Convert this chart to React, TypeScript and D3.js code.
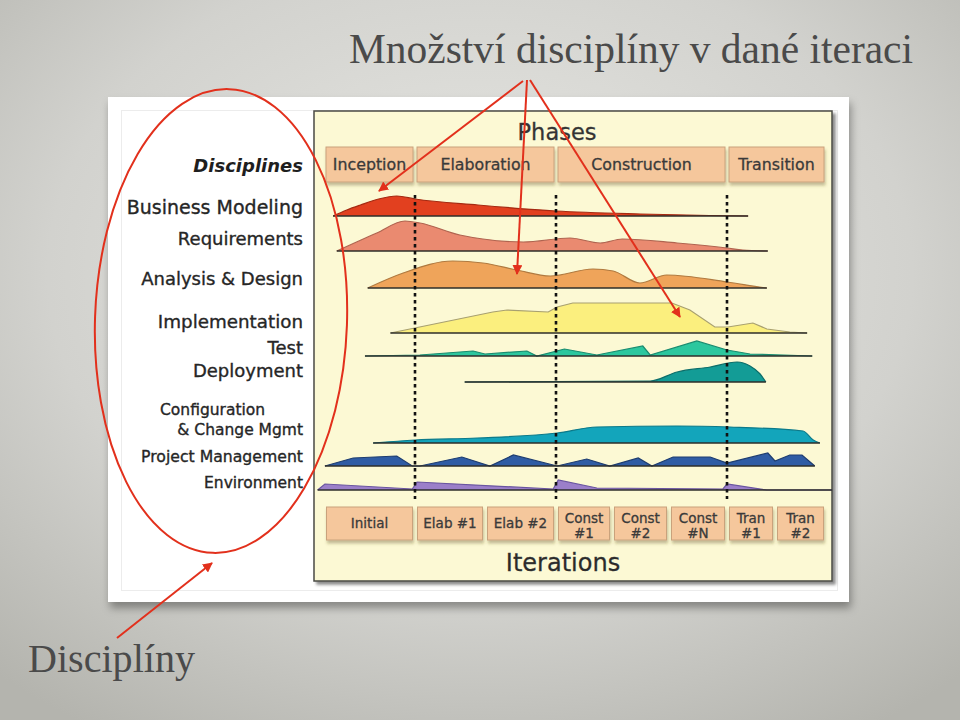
import React from 'react';
import * as d3 from 'd3';

// ---------- data ----------
const TITLE = 'Množství disciplíny v dané iteraci';
const NOTE = 'Disciplíny';
const PHASES_TITLE = 'Phases';
const ITERATIONS_TITLE = 'Iterations';
const DISCIPLINES_TITLE = 'Disciplines';

const PHASES = ['Inception', 'Elaboration', 'Construction', 'Transition'];
// phase spans in iteration units
const PHASE_START = [0, 1, 3, 6];
const PHASE_END = [1, 3, 6, 8];

const ITERATIONS = [
  ['Initial'],
  ['Elab #1'],
  ['Elab #2'],
  ['Const', '#1'],
  ['Const', '#2'],
  ['Const', '#N'],
  ['Tran', '#1'],
  ['Tran', '#2'],
];

const DISCIPLINES = [
  ['Business Modeling'],
  ['Requirements'],
  ['Analysis & Design'],
  ['Implementation'],
  ['Test'],
  ['Deployment'],
  ['Configuration', '& Change Mgmt'],
  ['Project Management'],
  ['Environment'],
];

// effort profiles: [time in iteration units, effort]
const BUSINESS_MODELING: [number, number][] = [
  [0.1, 0], [0.25, 6], [0.4, 11], [0.6, 17], [0.8, 20], [1.0, 17], [1.9, 11], [3.0, 5], [4.5, 2], [5.7, 0.5], [6.44, 0],
];
const REQUIREMENTS: [number, number][] = [
  [0.14, 0], [0.58, 18], [0.89, 30], [1.07, 28], [1.64, 16], [1.97, 12], [2.54, 9], [3.25, 13], [3.79, 8], [4.18, 12], [5.14, 8], [6.0, 3], [6.33, 1], [6.85, 0],
];
const ANALYSIS_DESIGN: [number, number][] = [
  [0.48, 0], [0.87, 15], [1.54, 27], [1.97, 25], [2.45, 18], [2.92, 12], [3.66, 19], [4.02, 17], [4.49, 5], [4.96, 13], [6.0, 6], [6.75, 0.5], [6.83, 0],
];
const IMPLEMENTATION: [number, number][] = [
  [0.73, 0], [2.11, 21], [2.31, 23], [2.89, 21], [3.02, 26], [3.3, 30], [5.05, 30], [5.36, 23], [5.79, 6], [6.02, 6], [6.54, 10], [6.83, 4], [7.29, 1], [7.63, 0],
];
const TEST: [number, number][] = [
  [0.45, 0], [1.07, 1], [1.83, 5], [2.0, 2], [2.59, 5], [2.73, 0], [3.15, 7], [3.73, 1], [4.54, 10], [4.67, 1], [5.48, 15], [6.0, 6], [6.48, 2], [7.73, 0],
];
const DEPLOYMENT: [number, number][] = [
  [1.71, 0], [4.67, 1], [5.14, 10], [5.71, 15], [6.21, 20], [6.48, 16], [6.69, 8], [6.81, 0],
];
const CONFIG_CHANGE: [number, number][] = [
  [0.54, 0], [1.0, 3], [1.89, 5], [3.02, 10], [3.73, 16], [5.14, 17], [6.06, 16], [7.55, 12], [7.75, 3], [7.88, 0],
];
const PROJECT_MANAGEMENT: [number, number][] = [
  [0.01, 0], [0.32, 8], [0.8, 10], [0.97, 0], [1.07, 0], [1.67, 9], [2.07, 0], [2.4, 11], [3.02, 0], [3.55, 7], [3.96, 0], [4.46, 8], [4.7, 0], [5.07, 9], [5.71, 9], [6.0, 3], [6.85, 13], [7.0, 5], [7.29, 11], [7.53, 11], [7.78, 0],
];
const ENVIRONMENT: [number, number][] = [
  [-0.07, 0], [0.01, 6], [0.97, 1], [1.03, 8], [2.96, 1], [3.04, 10], [3.73, 2], [5.93, 1], [6.0, 6], [6.83, 0], [8.12, 0],
];

const PROFILES = [
  BUSINESS_MODELING, REQUIREMENTS, ANALYSIS_DESIGN, IMPLEMENTATION, TEST,
  DEPLOYMENT, CONFIG_CHANGE, PROJECT_MANAGEMENT, ENVIRONMENT,
];

// ---------- styles / layout ----------
const FILLS = ['#e2401f', '#ea8a70', '#efa45a', '#fbef7e', '#2cc79e', '#139c96', '#13a5bb', '#2f5ca4', '#9b7fc9'];
const STROKES = ['#a52a12', '#b06450', '#b07a40', '#a8a070', '#1a8c70', '#0d6e6a', '#0c7a8a', '#1e3d70', '#6a55a0'];
const SMOOTH = [true, true, true, false, false, true, true, false, false];
const ROW_BASE = [216, 251, 288, 333, 356, 382, 443, 466, 490];
const LABEL_Y = [214, 245, 285, 328, 354, 377, 415, 462, 488];
const LABEL_SIZE = [19, 18, 18, 18.3, 18, 18, 15.5, 15.7, 15.5];

const RED = '#e2301c';
const UI_FONT = '"DejaVu Sans", Verdana, sans-serif';
const SERIF = '"Liberation Serif", "DejaVu Serif", serif';
const TXT = '#262626';

export default function App() {
  const x = d3.scaleLinear()
    .domain(d3.range(9))
    .range([324, 415, 485, 556, 612, 669, 727, 775, 826]);
  const h = d3.scaleLinear().domain([0, 30]).range([0, 30]);

  const labelRight = 303;
  const heavy = { stroke: TXT, strokeWidth: 0.35 };
  const boxHeavy = { stroke: '#3a3a3a', strokeWidth: 0.3 };

  return (
    <svg width={960} height={720} style={{ position: 'absolute', left: 0, top: 0 }}>
      <defs>
        <radialGradient id="bg" cx="50%" cy="38%" r="75%">
          <stop offset="0%" stopColor="#e8e8e4" />
          <stop offset="60%" stopColor="#d2d2ce" />
          <stop offset="100%" stopColor="#b4b4ae" />
        </radialGradient>
        <filter id="frameShadow" x="-10%" y="-10%" width="120%" height="125%">
          <feDropShadow dx="2" dy="6" stdDeviation="4" floodColor="#000" floodOpacity="0.35" />
        </filter>
        <filter id="panelShadow" x="-5%" y="-5%" width="110%" height="110%">
          <feDropShadow dx="3" dy="3" stdDeviation="1.5" floodColor="#000" floodOpacity="0.45" />
        </filter>
        <filter id="boxShadow" x="-10%" y="-20%" width="130%" height="160%">
          <feDropShadow dx="1" dy="3" stdDeviation="1.5" floodColor="#5a4a20" floodOpacity="0.35" />
        </filter>
        <marker id="arrow" viewBox="0 0 10 10" refX="9" refY="5" markerWidth="5" markerHeight="5" orient="auto">
          <path d="M0,0 L10,5 L0,10 z" fill={RED} />
        </marker>
      </defs>

      {/* slide background */}
      <rect x={0} y={0} width={960} height={720} fill="url(#bg)" />

      {/* titles */}
      <text x={349} y={63} fontFamily={SERIF} fontSize={41.5} fill="#4a4a4a" textLength={564} lengthAdjust="spacingAndGlyphs">{TITLE}</text>
      <text x={28} y={672} fontFamily={SERIF} fontSize={40} fill="#4a4a4a" textLength={167} lengthAdjust="spacingAndGlyphs">{NOTE}</text>

      {/* white picture frame */}
      <rect x={108} y={97} width={741} height={505} fill="#ffffff" filter="url(#frameShadow)" />
      <rect x={121.5} y={110.5} width={716} height={480} fill="none" stroke="#ececec" strokeWidth={1} />

      {/* yellow panel */}
      <rect x={314} y={111} width={518} height={470} fill="#fcf9d4" stroke="#4a4a44" strokeWidth={1.5} filter="url(#panelShadow)" />

      {/* phases */}
      <text x={557} y={140} textAnchor="middle" fontFamily={UI_FONT} fontSize={22.5} fill="#333" {...boxHeavy}>{PHASES_TITLE}</text>
      {PHASES.map((p, i) => {
        const x0 = x(PHASE_START[i]) + 2;
        const x1 = x(PHASE_END[i]) - 2;
        return (
          <g key={p}>
            <rect x={x0} y={147} width={x1 - x0} height={35} fill="#f5c79c" stroke="#c9a27c" strokeWidth={1} filter="url(#boxShadow)" />
            <text x={(x0 + x1) / 2} y={170} textAnchor="middle" fontFamily={UI_FONT} fontSize={15.8} fill="#3a3a3a" {...boxHeavy}>{p}</text>
          </g>
        );
      })}

      {/* discipline labels */}
      <text x={labelRight} y={172} textAnchor="end" fontFamily={UI_FONT} fontSize={18} fontWeight="bold" fontStyle="italic" fill="#1e1e1e">{DISCIPLINES_TITLE}</text>
      {DISCIPLINES.map((lines, i) =>
        lines.length === 1 ? (
          <text key={i} x={labelRight} y={LABEL_Y[i]} textAnchor="end" fontFamily={UI_FONT} fontSize={LABEL_SIZE[i]} fill={TXT} {...heavy}>{lines[0]}</text>
        ) : (
          <g key={i}>
            <text x={160} y={LABEL_Y[i]} fontFamily={UI_FONT} fontSize={LABEL_SIZE[i]} fill={TXT} {...heavy}>{lines[0]}</text>
            <text x={labelRight} y={LABEL_Y[i] + 20} textAnchor="end" fontFamily={UI_FONT} fontSize={LABEL_SIZE[i]} fill={TXT} {...heavy}>{lines[1]}</text>
          </g>
        )
      )}

      {/* humps */}
      {PROFILES.map((data, i) => {
        const base = ROW_BASE[i];
        const curve = SMOOTH[i] ? d3.curveMonotoneX : d3.curveLinear;
        const area = d3.area<[number, number]>()
          .x((d) => x(d[0]))
          .y0(base)
          .y1((d) => base - h(d[1]))
          .curve(curve);
        const top = d3.line<[number, number]>()
          .x((d) => x(d[0]))
          .y((d) => base - h(d[1]))
          .curve(curve);
        const xs = data.map((d) => x(d[0]));
        return (
          <g key={i}>
            <path d={area(data) || ''} fill={FILLS[i]} />
            <path d={top(data) || ''} fill="none" stroke={STROKES[i]} strokeWidth={1.2} />
            <line x1={d3.min(xs)} x2={d3.max(xs)} y1={base} y2={base} stroke="#2e2e2a" strokeWidth={1.4} />
          </g>
        );
      })}

      {/* phase boundaries */}
      {[1, 3, 6].map((t) => (
        <line key={t} x1={x(t)} x2={x(t)} y1={195} y2={499} stroke="#111" strokeWidth={2.6} strokeDasharray="3.5 3.5" />
      ))}

      {/* iterations */}
      {ITERATIONS.map((lines, i) => {
        const x0 = x(i) + 2.5;
        const x1 = x(i + 1) - 2.5;
        const cx = (x0 + x1) / 2;
        return (
          <g key={i}>
            <rect x={x0} y={507} width={x1 - x0} height={33} fill="#f5c79c" stroke="#c9a27c" strokeWidth={1} filter="url(#boxShadow)" />
            {lines.length === 1 ? (
              <text x={cx} y={528} textAnchor="middle" fontFamily={UI_FONT} fontSize={13.5} fill="#3a3a3a" {...boxHeavy}>{lines[0]}</text>
            ) : (
              <>
                <text x={cx} y={522.5} textAnchor="middle" fontFamily={UI_FONT} fontSize={13.5} fill="#3a3a3a" {...boxHeavy}>{lines[0]}</text>
                <text x={cx} y={538} textAnchor="middle" fontFamily={UI_FONT} fontSize={13.5} fill="#3a3a3a" {...boxHeavy}>{lines[1]}</text>
              </>
            )}
          </g>
        );
      })}
      <text x={563} y={571} textAnchor="middle" fontFamily={UI_FONT} fontSize={24} fill="#2a2a2a" {...boxHeavy}>{ITERATIONS_TITLE}</text>

      {/* red annotations */}
      <ellipse cx={221} cy={321} rx={126} ry={232} fill="none" stroke={RED} strokeWidth={2} transform="rotate(2 221 321)" />
      <line x1={523} y1={81} x2={379} y2={191} stroke={RED} strokeWidth={2} markerEnd="url(#arrow)" />
      <line x1={527} y1={80} x2={517} y2={274} stroke={RED} strokeWidth={2} markerEnd="url(#arrow)" />
      <line x1={530} y1={80} x2={680} y2={317} stroke={RED} strokeWidth={2} markerEnd="url(#arrow)" />
      <line x1={117} y1={638} x2={212} y2={563} stroke={RED} strokeWidth={2} markerEnd="url(#arrow)" />
    </svg>
  );
}
